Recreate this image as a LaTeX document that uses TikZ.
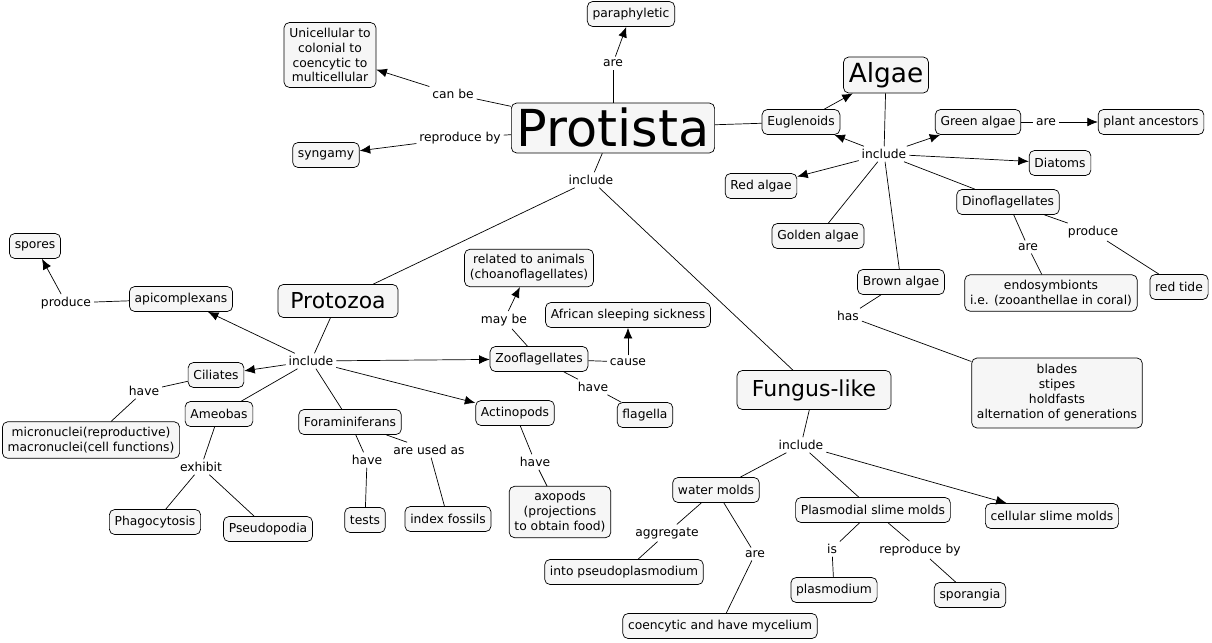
\documentclass[tikz,border=0pt]{standalone}
\usepackage{fontspec}
\setmainfont{DejaVu Sans}
\usetikzlibrary{positioning, arrows.meta}
\begin{document}
\begin{tikzpicture}[x=0.02cm, y=-0.02cm,
  concept/.style={draw, rounded corners=3pt, fill=cyan!4!gray!8, font=\fontsize{7}{8.5}\selectfont, align=center, inner sep=3pt, minimum height=0.5cm},
  phrase/.style={fill=white, font=\fontsize{7}{8.5}\selectfont, inner sep=1.5pt},
  link/.style={draw, -{Latex[length=6pt,width=5pt]}}]
\useasboundingbox (0,0) rectangle (1212,642);
% Concepts
\node[concept, font=\fontsize{29}{30}\selectfont, minimum width=4cm, minimum height=1cm] (protista) at (613,128) {Protista};
\node[concept] (para) at (631,14) {paraphyletic};
\node[concept] (uni) at (330,55) {Unicellular to\\colonial to\\coencytic to\\multicellular};
\node[concept] (syn) at (326,155) {syngamy};
\node[concept, font=\fontsize{15}{16}\selectfont, minimum width=1.6cm, minimum height=0.72cm] (algae) at (886,75) {Algae};
\node[concept] (eugl) at (801,122) {Euglenoids};
\node[concept] (green) at (978,122) {Green algae};
\node[concept] (plant) at (1151,122) {plant ancestors};
\node[concept] (diat) at (1060,163) {Diatoms};
\node[concept] (red) at (761,186) {Red algae};
\node[concept] (golden) at (818,236) {Golden algae};
\node[concept] (dino) at (1008,202) {Dinoflagellates};
\node[concept] (brown) at (901,282) {Brown algae};
\node[concept] (endo) at (1051,293) {endosymbionts\\i.e. (zooanthellae in coral)};
\node[concept] (tide) at (1179,287) {red tide};
\node[concept, minimum width=3.4cm, minimum height=1.4cm] (blades) at (1057,393) {blades\\stipes\\holdfasts\\alternation of generations};
\node[concept] (spores) at (35,246) {spores};
\node[concept] (apic) at (181,299) {apicomplexans};
\node[concept, font=\fontsize{12.5}{14}\selectfont, minimum width=2.4cm, minimum height=0.66cm] (protozoa) at (338,301) {Protozoa};
\node[concept] (related) at (529,268) {related to animals\\(choanoflagellates)};
\node[concept] (african) at (628,315) {African sleeping sickness};
\node[concept] (zoo) at (539,359) {Zooflagellates};
\node[concept] (cil) at (216,375) {Ciliates};
\node[concept] (amoe) at (219,414) {Ameobas};
\node[concept] (micro) at (91,440) {micronuclei(reproductive)\\macronuclei(cell functions)};
\node[concept] (fora) at (350,422) {Foraminiferans};
\node[concept] (actino) at (515,413) {Actinopods};
\node[concept] (flag) at (645,415) {flagella};
\node[concept, font=\fontsize{12.5}{14}\selectfont, minimum width=3.08cm, minimum height=0.78cm] (fungus) at (814,390) {Fungus-like};
\node[concept] (phago) at (155,522) {Phagocytosis};
\node[concept] (pseudo) at (268,529) {Pseudopodia};
\node[concept] (tests) at (365,520) {tests};
\node[concept] (index) at (448,519) {index fossils};
\node[concept] (axo) at (560,512) {axopods\\(projections\\to obtain food)};
\node[concept] (water) at (716,490) {water molds};
\node[concept] (plasmo) at (873,510) {Plasmodial slime molds};
\node[concept] (cell) at (1052,516) {cellular slime molds};
\node[concept] (into) at (624,572) {into pseudoplasmodium};
\node[concept] (plasmod) at (834,590) {plasmodium};
\node[concept] (spor) at (970,595) {sporangia};
\node[concept] (coen) at (720,626) {coencytic and have mycelium};

% Linking phrases
\node[phrase] (are1) at (613,63) {are};
\node[phrase] (canbe) at (453,94) {can be};
\node[phrase] (repby1) at (460,138) {reproduce by};
\node[phrase] (inc1) at (591,180) {include};
\node[phrase] (inc2) at (884,154) {include};
\node[phrase] (are2) at (1046,122) {are};
\node[phrase] (prod1) at (1093,232) {produce};
\node[phrase] (are3) at (1028,247) {are};
\node[phrase] (has) at (848,316) {has};
\node[phrase] (prod2) at (66,303) {produce};
\node[phrase] (inc3) at (311,361) {include};
\node[phrase] (have1) at (144,391) {have};
\node[phrase] (exhibit) at (201,467) {exhibit};
\node[phrase] (have2) at (367,460) {have};
\node[phrase] (used) at (429,450) {are used as};
\node[phrase] (maybe) at (504,320) {may be};
\node[phrase] (cause) at (628,362) {cause};
\node[phrase] (have3) at (593,387) {have};
\node[phrase] (have4) at (535,462) {have};
\node[phrase] (inc4) at (801,445) {include};
\node[phrase] (aggr) at (667,533) {aggregate};
\node[phrase] (are4) at (755,554) {are};
\node[phrase] (is) at (832,549) {is};
\node[phrase] (repby2) at (920,550) {reproduce by};

% Connectors
\draw (protista) -- (are1); \draw[link] (are1) -- (para);
\draw (protista) -- (canbe); \draw[link] (canbe) -- (uni);
\draw (protista) -- (repby1); \draw[link] (repby1) -- (syn);
\draw (protista) -- (inc1);
\draw (inc1) -- (protozoa); \draw (inc1) -- (fungus);
\draw (protista) -- (eugl); \draw[link] (eugl) -- (algae);
\draw (algae) -- (inc2);
\draw[link] (inc2) -- (eugl); \draw[link] (inc2) -- (green);
\draw[link] (inc2) -- (diat); \draw[link] (inc2) -- (red);
\draw (inc2) -- (golden); \draw (inc2) -- (dino); \draw (inc2) -- (brown);
\draw (green) -- (are2); \draw[link] (are2) -- (plant);
\draw (dino) -- (prod1); \draw (prod1) -- (tide);
\draw (dino) -- (are3); \draw (are3) -- (endo);
\draw (brown) -- (has); \draw (has) -- (blades);
\draw (apic) -- (prod2); \draw[link] (prod2) -- (spores);
\draw (protozoa) -- (inc3);
\draw[link] (inc3) -- (apic); \draw[link] (inc3) -- (cil);
\draw[link] (inc3) -- (zoo); \draw[link] (inc3) -- (actino);
\draw (inc3) -- (amoe); \draw (inc3) -- (fora);
\draw (cil) -- (have1); \draw (have1) -- (micro);
\draw (amoe) -- (exhibit); \draw (exhibit) -- (phago); \draw (exhibit) -- (pseudo);
\draw (fora) -- (have2); \draw (have2) -- (tests);
\draw (fora) -- (used); \draw (used) -- (index);
\draw (zoo) -- (maybe); \draw[link] (maybe) -- (related);
\draw (zoo) -- (cause); \draw[link] (cause) -- (african);
\draw (flag) -- (have3); \draw (have3) -- (zoo);
\draw (actino) -- (have4); \draw (have4) -- (axo);
\draw (fungus) -- (inc4);
\draw (inc4) -- (water); \draw (inc4) -- (plasmo); \draw[link] (inc4) -- (cell);
\draw (water) -- (aggr); \draw (aggr) -- (into);
\draw (water) -- (are4); \draw (are4) -- (coen);
\draw (plasmo) -- (is); \draw (is) -- (plasmod);
\draw (plasmo) -- (repby2); \draw (repby2) -- (spor);
\end{tikzpicture}
\end{document}
